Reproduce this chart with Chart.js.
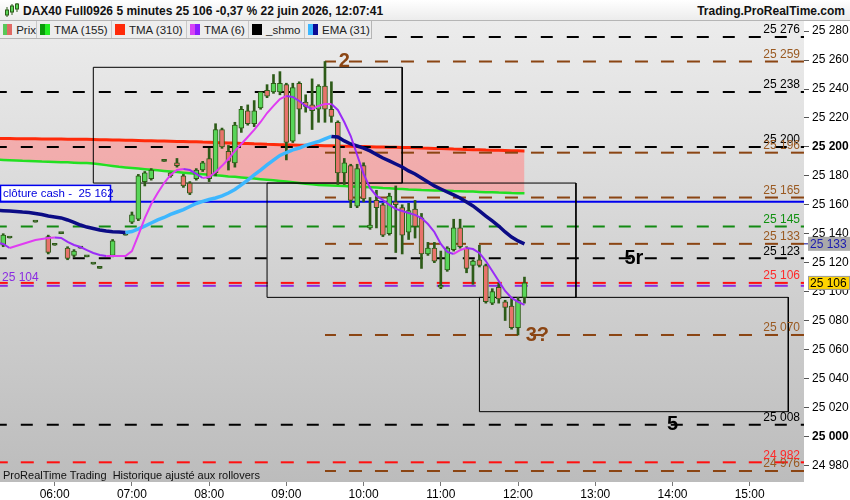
<!DOCTYPE html>
<html lang="fr">
<head>
<meta charset="utf-8">
<title>DAX40 Full0926 5 minutes</title>
<script src="https://cdn.jsdelivr.net/npm/chart.js@4.4.1/dist/chart.umd.min.js"></script>
<style>
  html, body { margin: 0; padding: 0; background: #fff; }
  body { width: 850px; height: 500px; position: relative; overflow: hidden; font-family: 'Liberation Sans', Arial, sans-serif; }
  #chart { position: absolute; left: 0; top: 0; }
  .head { position: absolute; left: 0; top: 0; width: 850px; height: 20px; background: linear-gradient(#ffffff, #ececec); border-bottom: 1px solid #b5b5b5; font-weight: bold; font-size: 12px; color: #111; }
  .head svg { position: absolute; left: 4px; top: 2px; }
  .head .title { position: absolute; left: 23px; top: 4px; }
  .head .site { position: absolute; right: 5px; top: 4px; }
  .legend { position: absolute; left: 0; top: 21px; height: 17px; display: flex; background: #ededed; border-bottom: 1px solid #b5b5b5; border-right: 1px solid #b5b5b5; font-size: 11.5px; color: #222; }
  .legend div { box-sizing: border-box; border-right: 1px solid #c8c8c8; display: flex; align-items: center; padding-left: 3px; white-space: nowrap; }
  .legend div:last-child { border-right: none; }
  .legend i { display: inline-block; width: 10px; height: 11px; margin-right: 4px; }
  .note { position: absolute; left: 3px; top: 469px; font-size: 11px; color: #111; }
</style>
</head>
<body>
<canvas id="chart" width="850" height="500"></canvas>

<div class="head">
  <svg width="16" height="16" viewBox="0 0 16 16">
    <line x1="3" y1="5" x2="3" y2="15" stroke="#2d5b18"/><rect x="1.5" y="8" width="3" height="5" fill="#58d558" stroke="#2d5b18"/>
    <line x1="8" y1="2" x2="8" y2="13" stroke="#2d5b18"/><rect x="6.5" y="4" width="3" height="6" fill="#58d558" stroke="#2d5b18"/>
    <line x1="13" y1="1" x2="13" y2="10" stroke="#2d5b18"/><rect x="11.5" y="2" width="3" height="5" fill="#58d558" stroke="#2d5b18"/>
  </svg>
  <span class="title">DAX40 Full0926 5 minutes 25 106 -0,37 % 22 juin 2026, 12:07:41</span>
  <span class="site">Trading.ProRealTime.com</span>
</div>

<div class="legend">
  <div style="width:37px"><i style="background:linear-gradient(to right,#58c858 50%,#e06a64 50%)"></i>Prix</div>
  <div style="width:75px"><i style="background:linear-gradient(to right,#0a9a0a 50%,#22ee22 50%)"></i>TMA (155)</div>
  <div style="width:75px"><i style="background:#ff2a0a"></i>TMA (310)</div>
  <div style="width:62px"><i style="background:linear-gradient(to right,#d642f5 50%,#8c1cff 50%)"></i>TMA (6)</div>
  <div style="width:56px"><i style="background:#000"></i>_shmo</div>
  <div style="width:66px"><i style="background:linear-gradient(to right,#3db7ff 50%,#0b0b95 50%)"></i>EMA (31)</div>
</div>

<div class="note">ProRealTime Trading&nbsp; Historique ajusté aux rollovers</div>

<script>
// 5 minute bars, 05:15 .. 12:05
var times = [
  '05:15','05:20','05:25','05:30','05:35','05:40','05:45','05:50','05:55',
  '06:00','06:05','06:10','06:15','06:20','06:25','06:30','06:35','06:40','06:45','06:50','06:55',
  '07:00','07:05','07:10','07:15','07:20','07:25','07:30','07:35','07:40','07:45','07:50','07:55',
  '08:00','08:05','08:10','08:15','08:20','08:25','08:30','08:35','08:40','08:45','08:50','08:55',
  '09:00','09:05','09:10','09:15','09:20','09:25','09:30','09:35','09:40','09:45','09:50','09:55',
  '10:00','10:05','10:10','10:15','10:20','10:25','10:30','10:35','10:40','10:45','10:50','10:55',
  '11:00','11:05','11:10','11:15','11:20','11:25','11:30','11:35','11:40','11:45','11:50','11:55',
  '12:00','12:05'
];

var openP = [
  null, 25132, 25137, null, null, null, 25148, null, 25138,
  25132, 25140, 25130, 25125, 25130, 25124, 25119, 25116, null, 25125, null, 25139,
  25148, 25150, 25176, 25178, null, 25190, 25182, 25189, 25180, 25175, 25178, 25184,
  25192, 25182, 25212, 25197, 25189, 25213, 25225, 25216, 25227, 25239, 25238, 25238,
  25243, 25204, 25244, 25231, 25229, 25226, 25242, 25226, 25217, 25182, 25187, 25159,
  25187, 25144, 25163, 25160, 25140, 25162, 25158, 25141, 25157, 25151, 25126, 25130,
  25103, 25115, 25129, 25144, 25130, 25118, 25122, 25118, 25092, 25103, 25093, 25090,
  25075, 25096
];
var highP = [
  null, 25140, 25137, null, null, null, 25148, null, 25139,
  25132, 25140, 25131, 25129, 25130, 25124, 25119, 25116, null, 25136, null, 25139,
  25155, 25181, 25183, 25185, null, 25190, 25182, 25192, 25181, 25176, 25185, 25190,
  25199, 25216, 25213, 25201, 25217, 25228, 25229, 25232, 25238, 25243, 25250, 25252,
  25244, 25244, 25245, 25236, 25247, 25243, 25259, 25245, 25218, 25192, 25188, 25188,
  25189, 25165, 25170, 25161, 25168, 25173, 25160, 25161, 25163, 25154, 25134, 25134,
  25128, 25131, 25150, 25150, 25131, 25122, 25132, 25119, 25102, 25106, 25094, 25096,
  25096, 25110
];
var lowP = [
  null, 25131, 25137, null, null, null, 25148, null, 25126,
  25132, 25140, 25122, 25124, 25130, 25124, 25119, 25116, null, 25124, null, 25139,
  25147, 25149, 25173, 25177, null, 25190, 25179, 25186, 25172, 25167, 25177, 25183,
  25176, 25180, 25199, 25184, 25186, 25210, 25215, 25214, 25226, 25234, 25237, 25236,
  25191, 25203, 25209, 25224, 25212, 25217, 25217, 25217, 25174, 25174, 25158, 25158,
  25162, 25143, 25144, 25138, 25139, 25127, 25126, 25136, 25137, 25116, 25125, 25120,
  25102, 25114, 25128, 25130, 25113, 25105, 25117, 25092, 25091, 25092, 25080, 25074,
  25070, 25092
];
var closeP = [
  null, 25139, 25137, null, null, null, 25148, null, 25127,
  25132, 25140, 25123, 25128, 25130, 25124, 25119, 25116, null, 25135, null, 25139,
  25153, 25180, 25182, 25184, null, 25190, 25180, 25187, 25173, 25168, 25184, 25189,
  25178, 25212, 25200, 25190, 25215, 25226, 25216, 25225, 25238, 25235, 25244, 25244,
  25203, 25241, 25226, 25228, 25225, 25242, 25226, 25221, 25182, 25189, 25163, 25185,
  25164, 25146, 25158, 25139, 25166, 25160, 25139, 25156, 25145, 25126, 25130, 25121,
  25104, 25130, 25144, 25131, 25116, 25121, 25118, 25093, 25100, 25095, 25089, 25075,
  25094, 25106
];

var tma6 = [
  25134.0, 25132.9, 25130.1, 25131.5, 25132.9, 25134.3, 25135.7, 25136.4, 25137.1,
  25137.4, 25137.1, 25134.3, 25132.2, 25130.8, 25128.7, 25126.7, 25125.3, 25124.6, 25124.6, 25124.6, 25124.6,
  25128.0, 25139.1, 25150.8, 25160.5, 25168.1, 25175.0, 25180.6, 25184.0, 25184.7, 25184.0, 25181.3, 25178.5,
  25179.2, 25182.7, 25186.9, 25191.6, 25197.2, 25202.0, 25206.8, 25211.7, 25217.2, 25223.4, 25228.3, 25233.1,
  25235.2, 25234.5, 25231.7, 25228.3, 25226.2, 25228.3, 25229.7, 25229.7, 25225.5, 25217.2, 25207.5, 25194.4,
  25181.3, 25171.6, 25166.1, 25163.3, 25159.9, 25157.1, 25155.7, 25154.3, 25153.0, 25150.8, 25146.7, 25141.2,
  25132.9, 25127.4, 25126.0, 25128.7, 25130.1, 25129.4, 25126.7, 25121.1, 25114.2, 25107.3, 25100.4, 25095.6,
  25092.9, 25090.8
];
var ema31 = [
  25156.0, 25155.9, 25155.7, 25155.4, 25155.0, 25154.7, 25154.0, 25153.3, 25152.2,
  25151.6, 25150.9, 25149.5, 25147.8, 25146.0, 25144.6, 25143.6, 25142.6, 25141.9, 25141.4, 25141.2, 25140.8,
  25141.5, 25143.3, 25145.3, 25147.4, 25149.5, 25151.2, 25153.3, 25155.0, 25156.7, 25158.8, 25160.9, 25162.3,
  25163.6, 25164.7, 25166.1, 25168.1, 25170.6, 25173.7, 25177.1, 25180.6, 25184.0, 25187.5, 25190.9, 25194.1,
  25196.1, 25197.9, 25199.2, 25201.0, 25202.4, 25203.7, 25205.5, 25207.2, 25206.8, 25204.1, 25202.0, 25200.6,
  25199.2, 25197.2, 25194.7, 25192.3, 25190.3, 25188.2, 25186.1, 25183.4, 25181.3, 25178.5, 25175.8, 25173.0,
  25170.9, 25168.8, 25166.8, 25164.7, 25161.9, 25159.2, 25155.7, 25152.2, 25148.8, 25145.3, 25141.2, 25137.7,
  25135.0, 25133.0
];
var tma310 = [
  25205.8, 25205.8, 25205.8, 25205.7, 25205.7, 25205.6, 25205.6, 25205.5, 25205.5,
  25205.4, 25205.4, 25205.3, 25205.3, 25205.2, 25205.2, 25205.1, 25205.0, 25204.9, 25204.8, 25204.7, 25204.6,
  25204.5, 25204.4, 25204.3, 25204.2, 25204.1, 25204.0, 25203.9, 25203.8, 25203.7, 25203.6, 25203.5, 25203.3,
  25203.2, 25203.0, 25202.9, 25202.7, 25202.6, 25202.4, 25202.3, 25202.1, 25202.0, 25201.8, 25201.7, 25201.5,
  25201.4, 25201.3, 25201.2, 25201.1, 25201.0, 25200.9, 25200.8, 25200.7, 25200.6, 25200.5, 25200.4, 25200.3,
  25200.2, 25200.1, 25200.0, 25199.9, 25199.8, 25199.7, 25199.6, 25199.5, 25199.4, 25199.2, 25199.1, 25198.9,
  25198.8, 25198.7, 25198.5, 25198.4, 25198.2, 25198.1, 25198.0, 25197.8, 25197.7, 25197.6, 25197.5, 25197.4,
  25197.3, 25197.2
];
var tma155 = [
  25191.1, 25191.0, 25190.8, 25190.6, 25190.4, 25190.3, 25190.1, 25189.9, 25189.8,
  25189.6, 25189.4, 25189.3, 25189.1, 25188.9, 25188.8, 25188.5, 25188.0, 25187.4, 25186.8, 25186.2, 25185.8,
  25185.4, 25185.0, 25184.6, 25184.2, 25183.8, 25183.4, 25183.0, 25182.6, 25182.2, 25181.8, 25181.4, 25181.1,
  25180.7, 25180.4, 25180.0, 25179.6, 25179.3, 25178.9, 25178.5, 25178.1, 25177.7, 25177.3, 25176.9, 25176.5,
  25176.1, 25175.6, 25175.1, 25174.6, 25174.1, 25173.7, 25173.5, 25173.3, 25173.1, 25172.9, 25172.7, 25172.5,
  25172.3, 25172.1, 25171.9, 25171.6, 25171.4, 25171.1, 25170.9, 25170.6, 25170.4, 25170.2, 25170.1, 25169.9,
  25169.8, 25169.7, 25169.5, 25169.4, 25169.2, 25169.1, 25168.9, 25168.7, 25168.6, 25168.4, 25168.3, 25168.1,
  25168.0, 25167.9
];

// horizontal levels
var blackLevels = [25276, 25238, 25200, 25123, 25008];
var brownLevels = [25259, 25196, 25165, 25133, 25070, 24976];
var greenLevels = [25145];
var redLevels = [25106, 24982];
var tmaLevel = 25104;
var cashClose = 25162;
var brownFrom = '09:30';

// boxes
var boxFrom = ['06:30', '08:45', '11:30'];
var boxTo = ['10:30', '12:45', '15:30'];
var boxTop = [25255, 25175, 25096];
var boxBottom = [25175, 25096, 25017];

// wave labels
var noteTexts = ['2', '5r', '3?', '5'];
var noteTimes = ['09:45', '13:30', '12:15', '14:00'];
var noteValues = [25259, 25123, 25070, 25008];

var hourTicks = ['06:00','07:00','08:00','09:00','10:00','11:00','12:00','13:00','14:00','15:00'];
var priceTicks = [24980, 25000, 25020, 25040, 25060, 25080, 25100, 25120, 25140, 25160, 25180, 25200, 25220, 25240, 25260, 25280];
var lastPrice = 25106;
var lastEma = 25133;

var FONT = "'Liberation Sans', Arial, sans-serif";
var BROWN = '#8b4513';
var DARK = '#2d5b18';

function toMin(t) { return +t.slice(0, 2) * 60 + +t.slice(3); }
function fmt(v) { return String(v).replace(/\B(?=(\d{3})+(?!\d))/g, ' '); }
function pad(n) { return (n < 10 ? '0' : '') + n; }

var xs = times.map(toMin);
function pts(arr) { return arr.map(function (v, i) { return {x: xs[i], y: v}; }); }
function slope(upColor, downColor) {
  return function (c) { return c.p1.parsed.y >= c.p0.parsed.y ? upColor : downColor; };
}

var idx = [];
times.forEach(function (t, i) { if (openP[i] !== null) idx.push(i); });

var bodies = idx.map(function (i) { return {x: xs[i], y: [openP[i], closeP[i]]}; });
var wicks = idx.map(function (i) { return {x: xs[i], y: [lowP[i], highP[i]]}; });
var bodyColors = idx.map(function (i) {
  if (openP[i] === closeP[i]) return DARK;
  return closeP[i] > openP[i] ? '#58d558' : '#e8736b';
});

function level(v, from, color, dash, width) {
  return {
    type: 'line', data: [{x: toMin(from), y: v}, {x: toMin('15:45'), y: v}],
    borderColor: color, borderWidth: width || 2, borderDash: dash, borderDashOffset: 2,
    pointRadius: 0, fill: false, order: 2
  };
}

var levelSets = [];
blackLevels.forEach(function (v) { levelSets.push(level(v, '05:15', '#000', [12, 14])); });
brownLevels.forEach(function (v) { levelSets.push(level(v, brownFrom, BROWN, [13, 13])); });
greenLevels.forEach(function (v) { levelSets.push(level(v, '05:15', '#138a13', [12, 14])); });
levelSets.push(level(tmaLevel, '05:15', '#8a2be2', [13, 13]));
redLevels.forEach(function (v) { levelSets.push(level(v, '05:15', '#ff1010', [13, 13])); });
levelSets.push(level(cashClose, '05:15', '#0000ee', [], 2));

var boxSets = boxFrom.map(function (f, i) {
  var a = toMin(f), b = toMin(boxTo[i]);
  return {
    type: 'line', borderColor: '#000', borderWidth: 1, pointRadius: 0, fill: false, order: 1,
    data: [{x: a, y: boxTop[i]}, {x: b, y: boxTop[i]}, {x: b, y: boxBottom[i]}, {x: a, y: boxBottom[i]}, {x: a, y: boxTop[i]}]
  };
});

var backdrop = {
  id: 'backdrop',
  beforeDraw: function (chart) {
    var a = chart.chartArea, ctx = chart.ctx;
    var g = ctx.createLinearGradient(0, a.top, 0, a.bottom);
    g.addColorStop(0, '#ececec');
    g.addColorStop(1, '#bcbcbc');
    ctx.save();
    ctx.fillStyle = g;
    ctx.fillRect(a.left, a.top, a.width, a.height);
    ctx.restore();
  }
};

var labels = {
  id: 'labels',
  afterDatasetsDraw: function (chart) {
    var ctx = chart.ctx, a = chart.chartArea, x = chart.scales.x, y = chart.scales.y;
    ctx.save();
    ctx.beginPath(); ctx.rect(a.left, a.top, a.width, a.height); ctx.clip();

    // level values on the right side of the plot
    ctx.font = '12px ' + FONT; ctx.textAlign = 'right'; ctx.textBaseline = 'bottom';
    function tag(list, color) {
      list.forEach(function (v) { ctx.fillStyle = color; ctx.fillText(fmt(v), a.right - 4, y.getPixelForValue(v) - 1); });
    }
    tag(blackLevels, '#000'); tag(brownLevels, '#9a5a22'); tag(greenLevels, '#109010'); tag(redLevels, '#ff2a2a');

    // purple TMA level on the left
    ctx.textAlign = 'left'; ctx.fillStyle = '#8a2be2';
    ctx.fillText(fmt(tmaLevel), 2, y.getPixelForValue(tmaLevel) - 2);

    // cash close box
    var cy = y.getPixelForValue(cashClose);
    ctx.fillStyle = '#fff'; ctx.fillRect(0.5, cy - 16.5, 110, 16);
    ctx.strokeStyle = '#0000ee'; ctx.lineWidth = 1.5; ctx.strokeRect(0.5, cy - 16.5, 110, 16);
    ctx.font = '11.5px ' + FONT; ctx.fillStyle = '#0000dd'; ctx.textBaseline = 'middle';
    ctx.fillText('clôture cash -  ' + fmt(cashClose), 3, cy - 8.5);

    // wave labels
    ctx.font = 'bold 20px ' + FONT; ctx.textAlign = 'center'; ctx.textBaseline = 'middle';
    var noteColors = [BROWN, '#000', BROWN, '#000'];
    noteTexts.forEach(function (t, i) {
      ctx.fillStyle = noteColors[i];
      ctx.fillText(t, x.getPixelForValue(toMin(noteTimes[i])), y.getPixelForValue(noteValues[i]));
    });
    ctx.restore();
  },
  afterDraw: function (chart) {
    var ctx = chart.ctx, a = chart.chartArea, y = chart.scales.y;
    ctx.save();
    ctx.font = '12px ' + FONT; ctx.textAlign = 'left'; ctx.textBaseline = 'middle';
    var ey = y.getPixelForValue(lastEma);
    ctx.fillStyle = '#a9a9a9'; ctx.fillRect(a.right + 4, ey - 7, 42, 14);
    ctx.strokeStyle = '#0b0b95'; ctx.lineWidth = 1;
    ctx.beginPath(); ctx.moveTo(a.right, ey); ctx.lineTo(a.right + 4, ey); ctx.stroke();
    ctx.fillStyle = '#1a1ab0'; ctx.fillText(fmt(lastEma), a.right + 6, ey + 0.5);

    var py = y.getPixelForValue(lastPrice);
    ctx.fillStyle = '#ffd400'; ctx.fillRect(a.right + 4.5, py - 6.5, 41, 13);
    ctx.strokeStyle = '#9a9a9a'; ctx.strokeRect(a.right + 4.5, py - 6.5, 41, 13);
    ctx.fillStyle = '#000'; ctx.fillText(fmt(lastPrice), a.right + 6, py + 0.5);
    ctx.restore();
  }
};

new Chart(document.getElementById('chart'), {
  type: 'bar',
  data: {
    datasets: [
      { type: 'line', label: 'TMA (6)', data: pts(tma6), borderWidth: 2, pointRadius: 0, fill: false,
        segment: { borderColor: slope('#e03cf2', '#9a2cf7') }, borderColor: '#9a2cf7', order: -5 },
      { type: 'line', label: 'EMA (31)', data: pts(ema31), borderWidth: 3.5, pointRadius: 0, fill: false,
        segment: { borderColor: slope('#3db7ff', '#0b0b85') }, borderColor: '#0b0b85', order: -4 },
      { type: 'bar', label: 'Prix', data: bodies, backgroundColor: bodyColors, borderColor: DARK, borderWidth: 1,
        borderSkipped: false, barThickness: 5, minBarLength: 2, grouped: false, order: -3 },
      { type: 'bar', label: 'mèches', data: wicks, backgroundColor: DARK, borderWidth: 0,
        barThickness: 2, grouped: false, order: -2 },
      { type: 'line', label: 'TMA (310)', data: pts(tma310), borderColor: '#ff2a0a', borderWidth: 3, pointRadius: 0,
        fill: '+1', backgroundColor: 'rgba(255,140,140,0.6)', order: 6 },
      { type: 'line', label: 'TMA (155)', data: pts(tma155), borderColor: '#22e022', borderWidth: 2.5, pointRadius: 0,
        fill: false, order: 5 }
    ].concat(levelSets, boxSets)
  },
  options: {
    responsive: false,
    animation: false,
    layout: { padding: { top: 21, left: 0, right: 0, bottom: 0 } },
    plugins: { legend: { display: false }, tooltip: { enabled: false } },
    scales: {
      x: {
        type: 'linear', min: 317.5, max: 942.2, offset: false,
        grid: { drawOnChartArea: false, drawTicks: true, tickLength: 4, color: '#777', offset: false },
        border: { display: false },
        ticks: {
          color: '#000', padding: 1, maxRotation: 0, autoSkip: false,
          font: { family: FONT, size: 12 },
          callback: function (v) { return pad(Math.floor(v / 60)) + ':' + pad(v % 60); }
        },
        afterBuildTicks: function (s) { s.ticks = hourTicks.map(function (t) { return {value: toMin(t)}; }); },
        afterFit: function (s) { s.height = 18; }
      },
      y: {
        type: 'linear', position: 'right', min: 24968.4, max: 25287,
        grid: { drawOnChartArea: false, drawTicks: true, tickLength: 5, color: '#555' },
        border: { display: false },
        ticks: {
          color: '#000', padding: 3,
          font: function (c) {
            return { family: FONT, size: 12, weight: c.tick && c.tick.value % 200 === 0 ? 'bold' : 'normal' };
          },
          callback: function (v) { return fmt(v); }
        },
        afterBuildTicks: function (s) { s.ticks = priceTicks.map(function (v) { return {value: v}; }); },
        afterFit: function (s) { s.width = 46; }
      }
    }
  },
  plugins: [backdrop, labels]
});
</script>
</body>
</html>
